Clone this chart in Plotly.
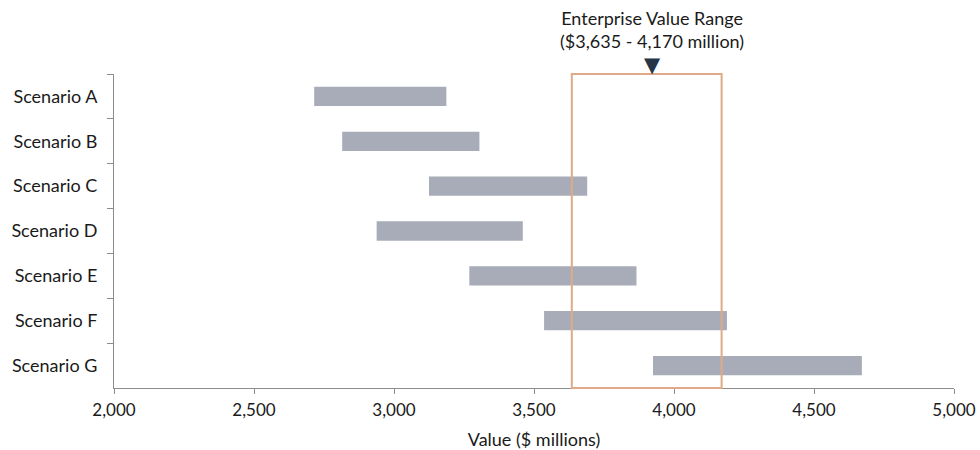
import plotly.graph_objects as go

scenarios = ["Scenario A", "Scenario B", "Scenario C", "Scenario D", "Scenario E", "Scenario F", "Scenario G"]
low_values = [2715, 2815, 3125, 2938, 3269, 3536, 3925]
high_values = [3187, 3305, 3690, 3460, 3866, 4189, 4671]
ev_low = 3635
ev_high = 4170
ev_marker = 3920
x_ticks = [2000, 2500, 3000, 3500, 4000, 4500, 5000]
x_tick_labels = ["2,000", "2,500", "3,000", "3,500", "4,000", "4,500", "5,000"]

FONT = "Lato, 'Open Sans', sans-serif"
AXIS = "#8c8c8c"

fig = go.Figure()
fig.add_trace(go.Bar(
    y=scenarios,
    x=[h - l for l, h in zip(low_values, high_values)],
    base=low_values,
    orientation="h",
    marker=dict(color="#a7acb8", line=dict(width=0)),
    width=0.43,
    hoverinfo="skip",
    showlegend=False,
))

# EV range rectangle
fig.add_shape(type="rect", xref="x", yref="paper",
              x0=ev_low, x1=ev_high, y0=0, y1=1,
              line=dict(color="#e0aa88", width=2), fillcolor="rgba(0,0,0,0)",
              layer="above")

label = (f"Enterprise Value Range<br>(${ev_low:,} - {ev_high:,} million)<br>"
         "<span style='font-family:DejaVu Sans;font-size:21px;color:#253746'>▼</span>")
fig.add_annotation(
    x=ev_marker, y=1, xref="x", yref="paper", yanchor="bottom", yshift=-5,
    text=label, showarrow=False,
    font=dict(family=FONT, size=18, color="#1a1a1a"),
)

fig.update_layout(
    width=980, height=450,
    margin=dict(l=114, r=26, t=74, b=62),
    paper_bgcolor="white", plot_bgcolor="white",
    font=dict(family=FONT, size=18, color="#1a1a1a"),
    bargap=0.57,
    xaxis=dict(
        range=[2000, 5000], tickvals=x_ticks, ticktext=x_tick_labels,
        showgrid=False, zeroline=False, automargin=False,
        showline=True, linecolor=AXIS, linewidth=1,
        ticks="outside", ticklen=5, tickcolor=AXIS,
        ticklabelstandoff=2,
        title=dict(text="Value ($ millions)", standoff=15, font=dict(size=18)),
        tickfont=dict(size=17),
    ),
    yaxis=dict(
        autorange="reversed", type="category", automargin=False,
        showgrid=False, zeroline=False,
        showline=True, linecolor=AXIS, linewidth=1,
        ticks="outside", ticklen=6, tickcolor=AXIS, tickson="boundaries",
        ticklabelstandoff=12,
        tickfont=dict(size=18),
    ),
)

fig.write_html("out.html")
